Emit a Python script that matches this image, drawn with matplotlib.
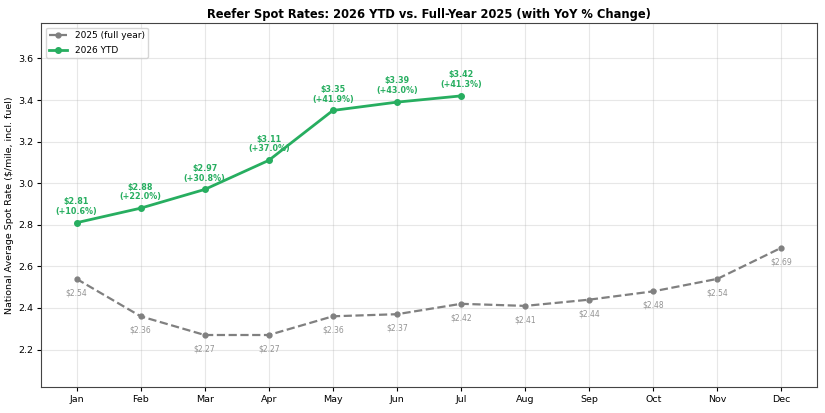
import matplotlib
matplotlib.use('Agg')
import matplotlib.pyplot as plt

months = ['Jan', 'Feb', 'Mar', 'Apr', 'May', 'Jun', 'Jul', 'Aug', 'Sep', 'Oct', 'Nov', 'Dec']
rates_2025 = [2.54, 2.36, 2.27, 2.27, 2.36, 2.37, 2.42, 2.41, 2.44, 2.48, 2.54, 2.69]
rates_2026 = [2.81, 2.88, 2.97, 3.11, 3.35, 3.39, 3.42]
yoy_pct = [10.6, 22.0, 30.8, 37.0, 41.9, 43.0, 41.3]

green = '#27ae60'
gray = '#808080'

fig, ax = plt.subplots(figsize=(8.25, 4.13), dpi=100)

x25 = list(range(len(months)))
x26 = list(range(len(rates_2026)))

ax.plot(x25, rates_2025, color=gray, linestyle='--', linewidth=1.6, marker='o', markersize=3.5, label='2025 (full year)')
ax.plot(x26, rates_2026, color=green, linestyle='-', linewidth=2.0, marker='o', markersize=4, label='2026 YTD')

for i, v in enumerate(rates_2025):
    ax.annotate(f'${v:.2f}', (i, v), xytext=(0, -10), textcoords='offset points',
                ha='center', va='center', fontsize=5.5, color=gray, alpha=0.85)

for i, v in enumerate(rates_2026):
    ax.annotate(f'${v:.2f}\n(+{yoy_pct[i]:.1f}%)', (i, v), xytext=(0, 5), textcoords='offset points',
                ha='center', va='bottom', fontsize=5.8, color=green, fontweight='bold', linespacing=1.1)

ax.set_xticks(x25)
ax.set_xticklabels(months)
ax.set_ylim(2.02, 3.77)
ax.tick_params(labelsize=6.8, length=3, pad=2.5)
ax.set_ylabel('National Average Spot Rate ($/mile, incl. fuel)', fontsize=6.8, labelpad=3)
ax.set_title('Reefer Spot Rates: 2026 YTD vs. Full-Year 2025 (with YoY % Change)', fontsize=8.3, fontweight='bold', pad=4)
ax.grid(True, alpha=0.3)
for s in ax.spines.values():
    s.set_color('#444444')
ax.legend(loc='upper left', fontsize=6.5, labelspacing=0.6)

fig.subplots_adjust(left=0.05, right=0.99, top=0.944, bottom=0.063)
plt.savefig('out.png', dpi=100)
